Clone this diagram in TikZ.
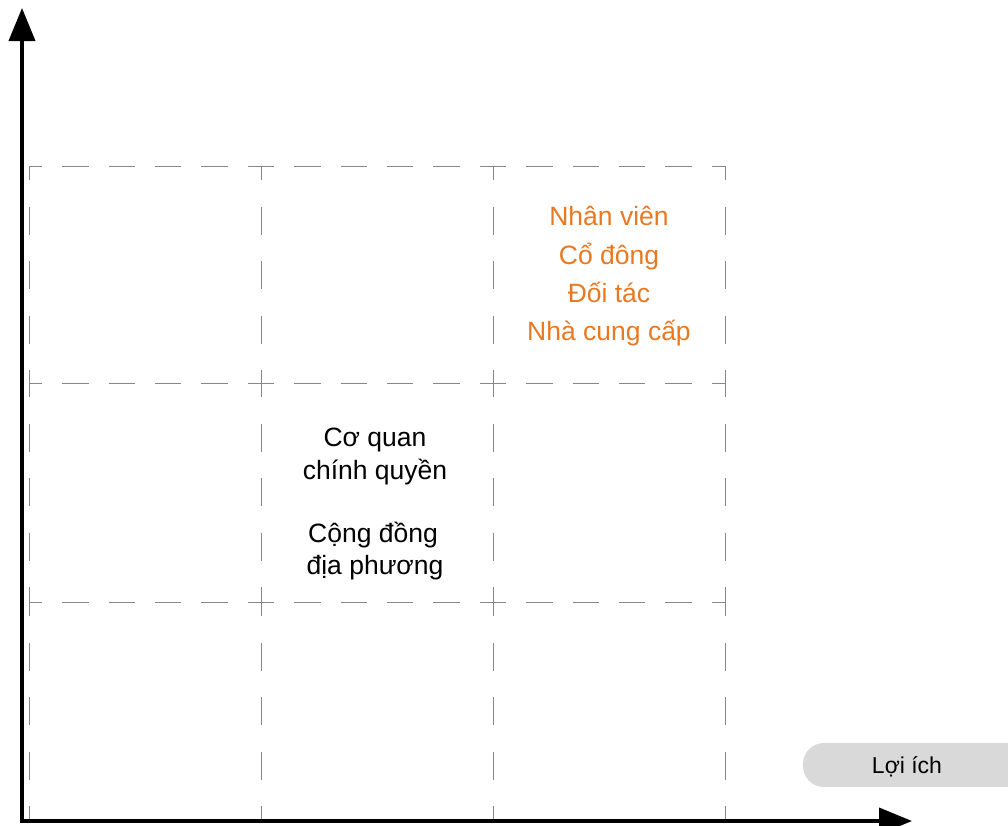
\documentclass[tikz,border=0pt]{standalone}
\usepackage{fontspec}
\setmainfont{Liberation Sans}
\usetikzlibrary{arrows.meta}
\definecolor{orangetxt}{RGB}{232,121,34}
\definecolor{pillgray}{RGB}{217,217,217}
\definecolor{gridgray}{RGB}{135,135,135}
\begin{document}
\begin{tikzpicture}[x=1pt,y=-1pt,
  axis/.style={line width=4pt,-{Triangle[length=33pt,width=26pt]}},
  hgrid/.style={gridgray,line width=0.9pt,dash pattern=on 26.4pt off 20pt,dash phase=13.2pt},
  vgrid/.style={gridgray,line width=0.9pt,dash pattern=on 28pt off 26.5pt,dash phase=14pt},
  lbl/.style={font=\fontsize{26.5}{30}\selectfont,inner sep=0pt,anchor=base},
  pill/.style={fill=pillgray,rounded corners=21pt,inner sep=0pt}]
\useasboundingbox (0,0) rectangle (1008,825);
% grid
\foreach \y in {166,383,602}{
  \foreach \xa/\xb in {29/261,261/493,493/725}{
    \draw[hgrid] (\xa,\y) -- (\xb,\y);
  }
}
\foreach \x in {29,261,493,725}{
  \foreach \ya/\yb in {166/383,383/602,602/820}{
    \draw[vgrid] (\x,\ya) -- (\x,\yb);
  }
}
% pill
\fill[pill] (803,743) rectangle (1040,787);
\node[lbl,font=\fontsize{23}{28}\selectfont] (loiich) at (907,773) {Lợi ích};
% axes
\coordinate (O) at (22,821);
\coordinate (ytop) at (22,8);
\coordinate (xend) at (912,821);
\draw[axis] ([yshift=2pt]O) -- (ytop);
\draw[axis] ([xshift=-2pt]O) -- (xend);
% orange texts
\node[lbl,text=orangetxt] (t1) at (609,225) {Nhân viên};
\node[lbl,text=orangetxt] (t2) at (609,264) {Cổ đông};
\node[lbl,text=orangetxt] (t3) at (609,302) {Đối tác};
\node[lbl,text=orangetxt] (t4) at (609,340) {Nhà cung cấp};
% black texts
\node[lbl] (b1) at (375,446) {Cơ quan};
\node[lbl] (b2) at (375,479) {chính quyền};
\node[lbl] (b3) at (373,542) {Cộng đồng};
\node[lbl] (b4) at (375,574) {địa phương};
\end{tikzpicture}
\end{document}
